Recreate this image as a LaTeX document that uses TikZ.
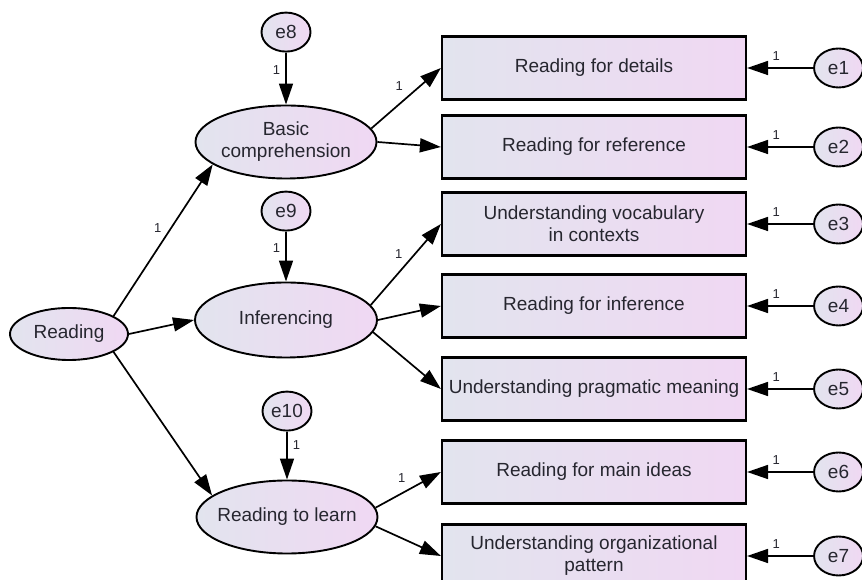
\documentclass[tikz,border=0pt]{standalone}
\usepackage{fontspec}
\setmainfont{Liberation Sans}
\usetikzlibrary{positioning, shapes.geometric, arrows.meta}
\definecolor{fillL}{HTML}{E2E4EE}
\definecolor{fillR}{HTML}{F0D8F3}
\definecolor{ink}{HTML}{26262F}
\newcommand{\semfont}{\fontsize{19}{22}\selectfont}

\begin{document}
\begin{tikzpicture}[x=1pt, y=1pt,
  lat/.style = {draw, ellipse, line width=1.9pt, left color=fillL, right color=fillR, minimum width=181pt, minimum height=73pt, inner xsep=-6pt, inner ysep=0pt, align=center, font=\semfont, text=ink},
  obs/.style = {draw, rectangle, line width=2.2pt, left color=fillL, right color=fillR, minimum width=304pt, minimum height=63pt, inner sep=0pt, align=center, font=\semfont, text=ink},
  err/.style = {draw, ellipse, line width=1.9pt, left color=fillL, right color=fillR, minimum width=49pt, minimum height=39pt, inner sep=0pt, font=\semfont, text=ink},
  arr/.style = {-{Triangle[length=21pt, width=14pt]}, line width=1.7pt},
  one/.style = {font=\fontsize{13}{13}\selectfont, text=ink, inner sep=1pt}]

\useasboundingbox (0,0) rectangle (862,580);

% observed indicators
\node[obs] (det)  at (594,512) {Reading for details};
\node[obs] (ref)  at (594,433) {Reading for reference};
\node[obs] (voc)  at (594,356) {Understanding vocabulary\\in contexts};
\node[obs] (inf)  at (594,274) {Reading for inference};
\node[obs] (prag) at (594,191) {Understanding pragmatic meaning};
\node[obs] (main) at (594,108) {Reading for main ideas};
\node[obs] (org)  at (594,24)  {Understanding organizational\\pattern};

% their errors
\node[err, right=66pt of det]  (e1) {e1};
\node[err, right=66pt of ref]  (e2) {e2};
\node[err, right=66pt of voc]  (e3) {e3};
\node[err, right=66pt of inf]  (e4) {e4};
\node[err, right=66pt of prag] (e5) {e5};
\node[err, right=66pt of main] (e6) {e6};
\node[err, right=66pt of org]  (e7) {e7};

% latent factors
\node[lat, minimum width=118pt, minimum height=52pt] (read) at (69,246) {Reading};
\node[lat] (basic) at (286,438) {Basic\\comprehension};
\node[lat, minimum width=182pt, minimum height=75pt] (infer) at (286,260) {Inferencing};
\node[lat] (learn) at (287,63) {Reading to learn};

% disturbances
\node[err, above=52pt of basic] (e8)  {e8};
\node[err, above=50pt of infer] (e9)  {e9};
\node[err, above=48pt of learn] (e10) {e10};

%--- Reading -> first order factors ---
\draw[arr] (read.22) -- node[one, pos=0.58, left=8pt]{1} (basic.197);
\draw[arr] (read.east) -- (infer.west);
\draw[arr] (read.-22) -- (learn.164);

%--- disturbances -> factors ---
\draw[arr] (e8) -- node[one, pos=0.33, left=4pt]{1} (basic);
\draw[arr] (e9) -- node[one, pos=0.33, left=4pt]{1} (infer);
\draw[arr] (e10) -- node[one, pos=0.29, right=4pt]{1} (learn);

%--- factors -> indicators ---
\draw[arr] (basic.9) -- node[one, pos=0.4, above=12pt]{1} (det.west);
\draw[arr] (basic.east) -- (ref.west);
\draw[arr] (infer.10) -- node[one, pos=0.4, above=12pt]{1} (voc.west);
\draw[arr] (infer.east) -- (inf.west);
\draw[arr] (infer.-8) -- (prag.west);
\draw[arr] (learn.6) -- node[one, pos=0.4, above=9pt]{1} (main.west);
\draw[arr] (learn.-6) -- (org.west);

%--- errors -> indicators ---
\draw[arr] (e1) -- node[one, pos=0.56, above=6pt]{1} (det);
\draw[arr] (e2) -- node[one, pos=0.56, above=6pt]{1} (ref);
\draw[arr] (e3) -- node[one, pos=0.56, above=6pt]{1} (voc);
\draw[arr] (e4) -- node[one, pos=0.56, above=6pt]{1} (inf);
\draw[arr] (e5) -- node[one, pos=0.56, above=6pt]{1} (prag);
\draw[arr] (e6) -- node[one, pos=0.56, above=6pt]{1} (main);
\draw[arr] (e7) -- node[one, pos=0.56, above=6pt]{1} (org);

\end{tikzpicture}
\end{document}
